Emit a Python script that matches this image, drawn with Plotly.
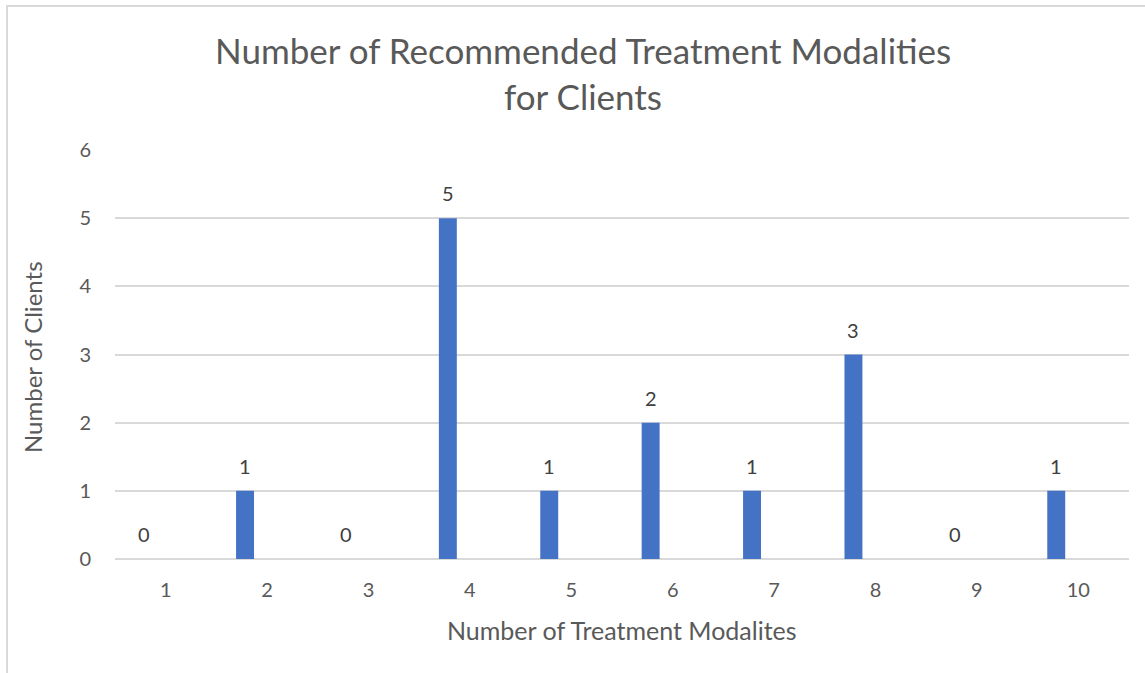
import plotly.graph_objects as go

categories = [1, 2, 3, 4, 5, 6, 7, 8, 9, 10]
clients = [0, 1, 0, 5, 1, 2, 1, 3, 0, 1]
tick_labels = [str(c) for c in categories]

BAR_W = 0.177
BAR_OFF = -0.306
FONT = "Lato"
GREY = "#595959"
W, H = 1145, 673
ML, MR, MT, MB = 115, 16, 150, 114
PW, PH = W - ML - MR, H - MT - MB


def px_x(p):
    return (p - ML) / PW


def px_y(p):
    return (H - MB - p) / PH


fig = go.Figure()
fig.add_trace(go.Bar(
    x=categories, y=clients, width=BAR_W, offset=BAR_OFF,
    marker=dict(color="#4472C4", line=dict(width=0)),
    hoverinfo="x+y",
))

for c, v in zip(categories, clients):
    fig.add_annotation(x=c + BAR_OFF + BAR_W / 2, y=v, text=str(v), showarrow=False,
                       yshift=25, font=dict(family=FONT, size=20, color="#404040"),
                       xref="x", yref="y")

fig.add_annotation(text="Number of Recommended Treatment Modalities",
                   xref="paper", yref="paper", x=px_x(583), y=px_y(50),
                   xanchor="center", yanchor="middle", showarrow=False,
                   font=dict(family=FONT, size=35, color=GREY))
fig.add_annotation(text="for Clients",
                   xref="paper", yref="paper", x=px_x(583), y=px_y(96),
                   xanchor="center", yanchor="middle", showarrow=False,
                   font=dict(family=FONT, size=35, color=GREY))
fig.add_annotation(text="Number of Treatment Modalites",
                   xref="paper", yref="paper", x=px_x(622), y=px_y(630),
                   xanchor="center", yanchor="middle", showarrow=False,
                   font=dict(family=FONT, size=25, color=GREY))
fig.add_annotation(text="Number of Clients", textangle=-90,
                   xref="paper", yref="paper", x=px_x(32), y=px_y(357),
                   xanchor="center", yanchor="middle", showarrow=False,
                   font=dict(family=FONT, size=24, color=GREY))

fig.add_shape(type="rect", xref="paper", yref="paper",
              x0=px_x(7), x1=px_x(1200), y0=px_y(720), y1=px_y(6),
              line=dict(color="#D9D9D9", width=2), fillcolor="rgba(0,0,0,0)", layer="below")

fig.update_layout(
    width=W, height=H,
    margin=dict(l=ML, r=MR, t=MT, b=MB, autoexpand=False),
    paper_bgcolor="white", plot_bgcolor="white",
    showlegend=False,
    font=dict(family=FONT, color=GREY),
    xaxis=dict(
        range=[0.5, 10.5], tickmode="array", tickvals=categories, ticktext=tick_labels,
        showgrid=False, zeroline=False, showline=False, automargin=False,
        ticks="outside", ticklen=13, tickcolor="rgba(0,0,0,0)",
        tickfont=dict(family=FONT, size=20, color=GREY),
    ),
    yaxis=dict(
        range=[0, 6], dtick=1, showgrid=True, gridcolor="#D9D9D9", gridwidth=2,
        zeroline=True, zerolinecolor="#D9D9D9", zerolinewidth=2, showline=False,
        automargin=False,
        ticks="outside", ticklen=19, tickcolor="rgba(0,0,0,0)",
        tickfont=dict(family=FONT, size=20, color=GREY),
    ),
)

fig.write_html("out.html", config={"displayModeBar": False},
               post_script="document.body.style.margin='0';")
